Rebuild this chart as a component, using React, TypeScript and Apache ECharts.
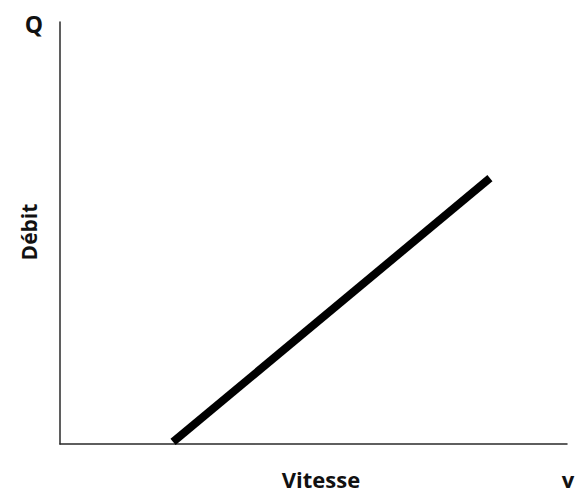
import React, { useEffect, useRef } from "react";
import * as echarts from "echarts";

const speedValues = [22.3, 84.8];
const flowValues = [0.5, 63];
const yAxisTitle = "Débit";
const yAxisSymbol = "Q";
const xAxisTitle = "Vitesse";
const xAxisSymbol = "v";

export default function App() {
  const ref = useRef<HTMLDivElement>(null);
  useEffect(() => {
    if (!ref.current) return;
    const chart = echarts.init(ref.current, null, { renderer: "svg" });
    const data = speedValues.map((x, i) => [x, flowValues[i]]);
    const font = "'Open Sans', 'Noto Sans', sans-serif";
    chart.setOption({
      animation: false,
      backgroundColor: "#ffffff",
      grid: { left: 60, top: 22, right: 13, bottom: 49 },
      xAxis: {
        type: "value",
        min: 0,
        max: 100,
        axisLine: { show: true, lineStyle: { color: "#2a2a2a", width: 1.5 } },
        axisTick: { show: false },
        axisLabel: { show: false },
        splitLine: { show: false },
      },
      yAxis: {
        type: "value",
        min: 0,
        max: 100,
        axisLine: { show: true, lineStyle: { color: "#2a2a2a", width: 1.5 } },
        axisTick: { show: false },
        axisLabel: { show: false },
        splitLine: { show: false },
      },
      series: [
        {
          type: "line",
          data,
          showSymbol: false,
          symbol: "none",
          lineStyle: { color: "#000000", width: 8, cap: "butt" },
        },
      ],
      graphic: [
        {
          type: "text",
          x: 34,
          y: 24,
          style: {
            text: yAxisSymbol,
            font: `bold 23px ${font}`,
            fill: "#111",
            textAlign: "center",
            textVerticalAlign: "middle",
          },
        },
        {
          type: "text",
          x: 29,
          y: 232,
          rotation: Math.PI / 2,
          style: {
            text: yAxisTitle,
            font: `bold 21px ${font}`,
            fill: "#111",
            textAlign: "center",
            textVerticalAlign: "middle",
          },
        },
        {
          type: "text",
          x: 321,
          y: 479,
          style: {
            text: xAxisTitle,
            font: `bold 22px ${font}`,
            lineHeight: 22,
            fill: "#111",
            textAlign: "center",
            textVerticalAlign: "middle",
          },
        },
        {
          type: "text",
          x: 568,
          y: 479,
          style: {
            text: xAxisSymbol,
            font: `bold 22px ${font}`,
            lineHeight: 22,
            fill: "#111",
            textAlign: "center",
            textVerticalAlign: "middle",
          },
        },
      ],
    });
    return () => chart.dispose();
  }, []);
  return (
    <div
      ref={ref}
      style={{ width: 580, height: 493, position: "absolute", left: 0, top: 0 }}
    />
  );
}
